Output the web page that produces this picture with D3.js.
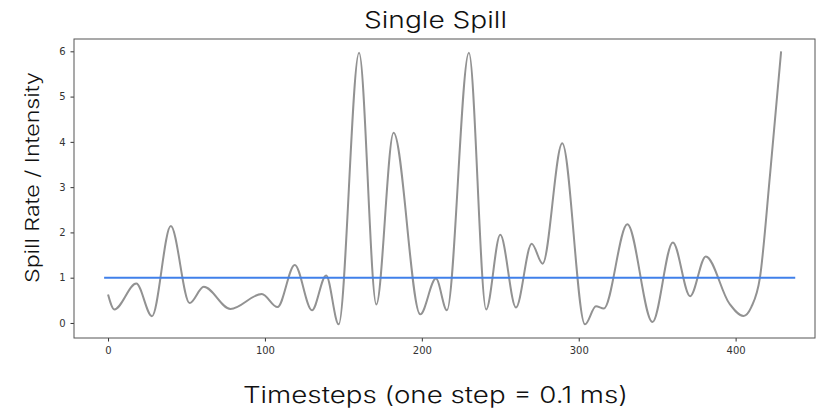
<!DOCTYPE html>
<html>
<head>
<meta charset="utf-8">
<script src="https://cdn.jsdelivr.net/npm/d3@7"></script>
<style>
  body { margin: 0; background: #fff; }
  svg { display: block; }
  .lbl { font-family: Inter, Lato, sans-serif; font-weight: 300; fill: #111; }
</style>
</head>
<body>
<svg id="chart" width="821" height="409"></svg>
<script>
// spill rate (timestep, value)
var timesteps = [0, 4, 18, 28, 40, 52, 61, 78, 98, 108, 119, 130, 139, 147, 160, 171, 182, 199, 209, 216,
                 230, 241, 250, 260, 270, 277, 289.5, 304, 311, 316, 331, 347, 360, 371, 381, 396, 405, 410,
                 415.5, 422, 429];
var spillRate = [0.63, 0.30, 0.87, 0.15, 2.14, 0.44, 0.80, 0.31, 0.64, 0.35, 1.28, 0.28, 1.05, -0.03, 5.97, 0.41, 4.20, 0.19, 0.98, 0.28,
                 5.97, 0.30, 1.95, 0.34, 1.75, 1.31, 3.97, -0.03, 0.37, 0.32, 2.18, 0.02, 1.78, 0.59, 1.47, 0.43, 0.155, 0.35,
                 1.0, 3.3, 6.0];
var thresholdX = [-2.5, 438];
var thresholdY = 1;
var xTicks = [0, 100, 200, 300, 400];
var yTicks = [0, 1, 2, 3, 4, 5, 6];

var svg = d3.select("#chart"),
    margin = {top: 39, right: 6, bottom: 71, left: 74},
    width = 821 - margin.left - margin.right,
    height = 409 - margin.top - margin.bottom,
    g = svg.append("g").attr("transform", "translate(" + margin.left + "," + margin.top + ")");

var x = d3.scaleLinear().domain([-21.7, 450.6]).range([0, width]),
    y = d3.scaleLinear().domain([-0.332, 6.272]).range([height, 0]);

var points = timesteps.map(function(t, i) { return {t: t, v: spillRate[i]}; });

var line = d3.line()
    .curve(d3.curveMonotoneX)
    .x(function(d) { return x(d.t); })
    .y(function(d) { return y(d.v); });

g.append("path")
    .datum(points)
    .attr("fill", "none")
    .attr("stroke", "#929292")
    .attr("stroke-width", 2)
    .attr("d", line);

g.append("line")
    .attr("x1", x(thresholdX[0]))
    .attr("x2", x(thresholdX[1]))
    .attr("y1", y(thresholdY))
    .attr("y2", y(thresholdY))
    .attr("stroke", "#4080ea")
    .attr("stroke-width", 2);

// axes
var xAxis = g.append("g")
    .attr("transform", "translate(0," + height + ")")
    .call(d3.axisBottom(x).tickValues(xTicks).tickFormat(d3.format("d")).tickSize(3.5).tickPadding(5).tickSizeOuter(0));
var yAxis = g.append("g")
    .call(d3.axisLeft(y).tickValues(yTicks).tickFormat(d3.format("d")).tickSize(3.5).tickPadding(5).tickSizeOuter(0));

[xAxis, yAxis].forEach(function(a) {
  a.select(".domain").remove();
  a.selectAll(".tick line").attr("stroke", "#333");
  a.selectAll(".tick text")
      .attr("fill", "#333")
      .style("font", "10px 'DejaVu Sans', sans-serif");
});

g.append("rect")
    .attr("width", width)
    .attr("height", height)
    .attr("fill", "none")
    .attr("stroke", "#555")
    .attr("stroke-width", 1);

// labels
svg.append("text")
    .attr("class", "lbl")
    .attr("x", 435.5)
    .attr("y", 28)
    .attr("text-anchor", "middle")
    .style("font-size", "23px")
    .attr("textLength", 143)
    .attr("lengthAdjust", "spacingAndGlyphs")
    .text("Single Spill");

svg.append("text")
    .attr("class", "lbl")
    .attr("x", 435.5)
    .attr("y", 403)
    .attr("text-anchor", "middle")
    .style("font-size", "23px")
    .attr("textLength", 385)
    .attr("lengthAdjust", "spacingAndGlyphs")
    .text("Timesteps (one step = 0.1 ms)");

svg.append("text")
    .attr("class", "lbl")
    .attr("transform", "translate(39,177.5) rotate(-90)")
    .attr("text-anchor", "middle")
    .style("font-size", "19px")
    .attr("textLength", 211)
    .attr("lengthAdjust", "spacingAndGlyphs")
    .text("Spill Rate / Intensity");
</script>
</body>
</html>
